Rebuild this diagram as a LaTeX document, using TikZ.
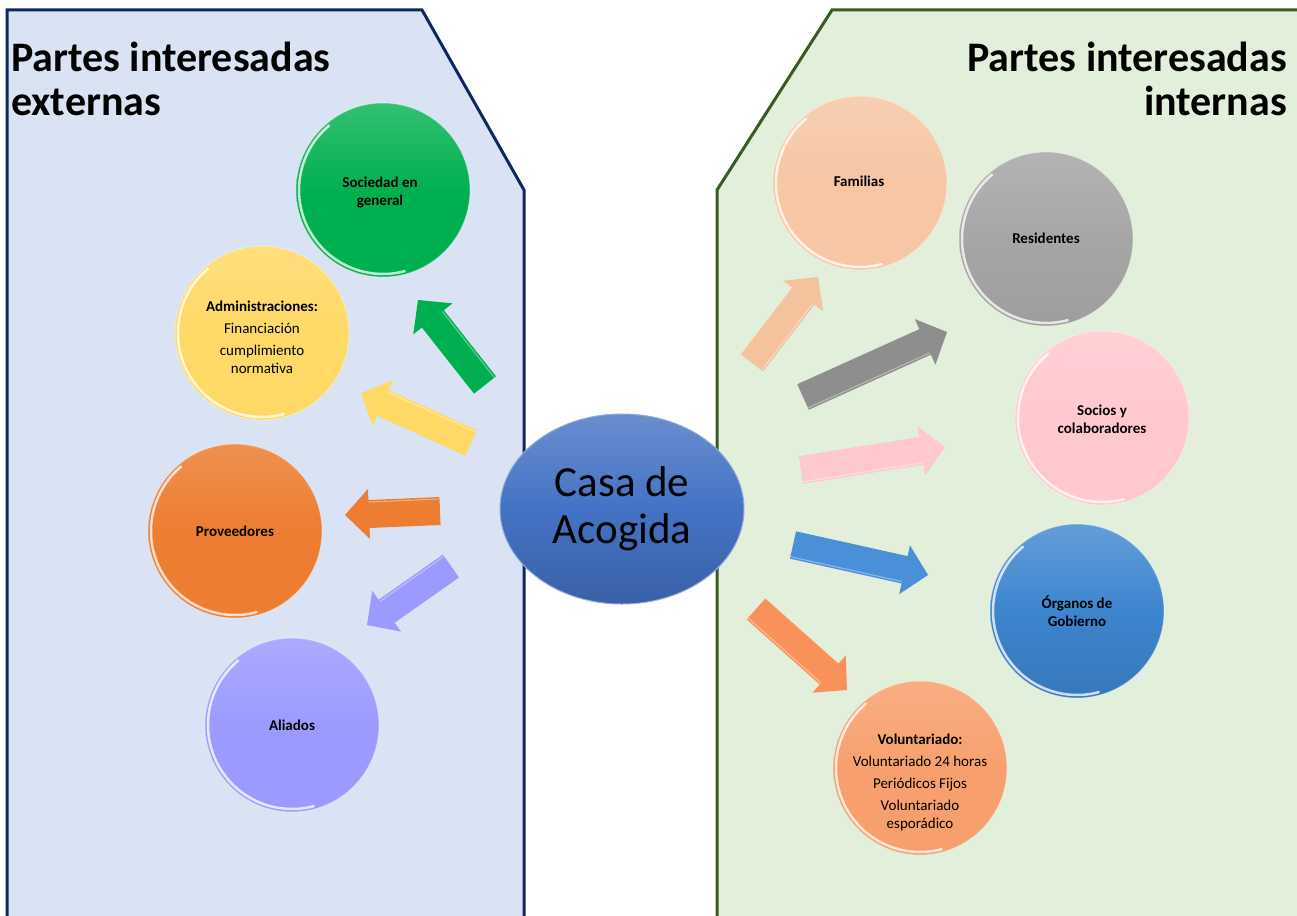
\documentclass[tikz,border=0pt]{standalone}
\usepackage{fontspec}
\setmainfont{Carlito}
\usetikzlibrary{shapes.geometric,calc}
\definecolor{leftbg}{HTML}{DAE3F3}
\definecolor{leftln}{HTML}{0E2760}
\definecolor{rightbg}{HTML}{E2EFDA}
\definecolor{rightln}{HTML}{3A5A23}
\definecolor{cgreen}{HTML}{00B050}
\definecolor{cyellow}{HTML}{FFD966}
\definecolor{corange}{HTML}{ED7D31}
\definecolor{clav}{HTML}{9B9BFF}
\definecolor{cpeach}{HTML}{F6C6A5}
\definecolor{cgray}{HTML}{A6A6A6}
\definecolor{cpink}{HTML}{FFC8CE}
\definecolor{cblue}{HTML}{3D85CF}
\definecolor{cvol}{HTML}{F7A06E}
\definecolor{ccasa}{HTML}{4472C4}
\definecolor{agray}{HTML}{8E8E8E}
\definecolor{ablue}{HTML}{4A90D9}
\definecolor{avol}{HTML}{F8925A}
\definecolor{apeach}{HTML}{F5C29E}
\newcommand\barrow[2]{%
  \coordinate (#1-h) at ($(#1-p)!24pt!(#1-t)$);
  \fill[#2] ($(#1-t)!14pt!90:(#1-p)$) -- ($(#1-h)!14pt!90:(#1-p)$)
    -- ($(#1-h)!25pt!90:(#1-p)$) -- (#1-p) -- ($(#1-h)!25pt!-90:(#1-p)$)
    -- ($(#1-h)!14pt!-90:(#1-p)$) -- ($(#1-t)!14pt!-90:(#1-p)$) -- cycle;
  \draw[white, opacity=0.35, line width=1.2pt] ($(#1-t)!12pt!-90:(#1-p)$) -- ($(#1-h)!12pt!-90:(#1-p)$);
}
\newcommand\rim[1]{%
  \draw[white, opacity=0.75, line width=2.5pt, line cap=round]
    ([shift={(130:84pt)}]#1.center) arc[start angle=130, end angle=285, radius=84pt];
}
\tikzset{
  stake/.style={circle, minimum size=174pt, inner sep=0pt, draw=white, draw opacity=0.35, line width=1pt},
  lbl/.style={align=center, font=\fontsize{15}{18}\selectfont, text=black},
  title/.style={font=\fontsize{42}{43}\selectfont\bfseries, text=black, inner sep=0pt},
  panel/.style={line width=3pt, line join=miter},
}
\begin{document}
\begin{tikzpicture}[x=1pt, y=-1pt]
\useasboundingbox (0,0) rectangle (1297,915);
\fill[white] (0,0) rectangle (1297,915);
\clip (0,0) rectangle (1297,915);
% panels
\draw[panel, fill=leftbg, draw=leftln] (7,930) -- (7,10) -- (422,10) -- (524,190) -- (524,930);
\draw[panel, fill=rightbg, draw=rightln] (717,930) -- (717,190) -- (832,10) -- (1310,10) -- (1310,930);
% titles
\node[title, anchor=base west] (tl1) at (11,72) {Partes interesadas};
\node[title, anchor=base west] (tl2) at (11,115) {externas};
\node[title, anchor=base east] (tr1) at (1287,72) {Partes interesadas};
\node[title, anchor=base east] (tr2) at (1287,115) {internas};
% circles left
\node[stake, top color=cgreen!80!white, bottom color=cgreen, middle color=cgreen] (soc) at (383,190) {};
\node[lbl, font=\fontsize{15}{18}\selectfont\bfseries] (soct) at (380,193) {Sociedad en\\general};
\node[stake, top color=cyellow!85!white, bottom color=cyellow, middle color=cyellow] (adm) at (262,333) {};
\node[lbl] (admt) at (262,337) {\textbf{Administraciones:}\\[4pt]Financiación\\[4pt]cumplimiento\\normativa};
\node[stake, top color=corange!85!white, bottom color=corange, middle color=corange] (prov) at (235,531) {};
\node[lbl, font=\fontsize{15}{18}\selectfont\bfseries] (provt) at (235,531) {Proveedores};
\node[stake, top color=clav!85!white, bottom color=clav, middle color=clav] (ali) at (292,725) {};
\node[lbl, font=\fontsize{15}{18}\selectfont\bfseries] (alit) at (292,725) {Aliados};
% circles right
\node[stake, top color=cpeach!85!white, bottom color=cpeach, middle color=cpeach] (fam) at (860,183) {};
\node[lbl, font=\fontsize{15}{18}\selectfont\bfseries] (famt) at (859,181) {Familias};
\node[stake, top color=cgray!85!white, bottom color=cgray!95!black, middle color=cgray] (res) at (1046,239) {};
\node[lbl, font=\fontsize{15}{18}\selectfont\bfseries] (rest) at (1046,238) {Residentes};
\node[stake, top color=cpink!85!white, bottom color=cpink, middle color=cpink] (sos) at (1102,418) {};
\node[lbl, font=\fontsize{15}{18}\selectfont\bfseries] (sost) at (1102,419) {Socios y\\colaboradores};
\node[stake, top color=cblue!80!white, bottom color=cblue!90!black, middle color=cblue] (org) at (1077,611) {};
\node[lbl, font=\fontsize{15}{18}\selectfont\bfseries] (orgt) at (1077,611) {Órganos de\\Gobierno};
\node[stake, top color=cvol!85!white, bottom color=cvol, middle color=cvol] (vol) at (920,768) {};
\node[lbl] (volt) at (920,782) {\textbf{Voluntariado:}\\[4pt]Voluntariado 24 horas\\[4pt]Periódicos Fijos\\[4pt]Voluntariado\\esporádico};
\foreach \c in {soc,adm,prov,ali,fam,res,sos,org,vol}{\rim{\c}}
% arrows
\coordinate (g-t) at (485,385); \coordinate (g-p) at (418,300);
\coordinate (y-t) at (471,443); \coordinate (y-p) at (361,393);
\coordinate (o-t) at (440,511); \coordinate (o-p) at (345,515);
\coordinate (l-t) at (451,566); \coordinate (l-p) at (367,625);
\coordinate (f-t) at (752,363); \coordinate (f-p) at (818,277);
\coordinate (r-t) at (803,397); \coordinate (r-p) at (947,332);
\coordinate (s-t) at (801,470); \coordinate (s-p) at (945,447);
\coordinate (b-t) at (793,545); \coordinate (b-p) at (928,575);
\coordinate (v-t) at (756,609); \coordinate (v-p) at (847,690);
\barrow{g}{cgreen}
\barrow{y}{cyellow}
\barrow{o}{corange}
\barrow{l}{clav}
\barrow{f}{apeach}
\barrow{r}{agray}
\barrow{s}{cpink}
\barrow{b}{ablue}
\barrow{v}{avol}
% center
\node[ellipse, minimum width=244pt, minimum height=190pt, inner sep=0pt,
      top color=ccasa!80!white, bottom color=ccasa!85!black, middle color=ccasa,
      draw=ccasa!60!white, line width=1pt,
      font=\fontsize{43}{47}\selectfont, align=center, text=black] (casa) at (622,509) {Casa de\\Acogida};
\end{tikzpicture}
\end{document}
